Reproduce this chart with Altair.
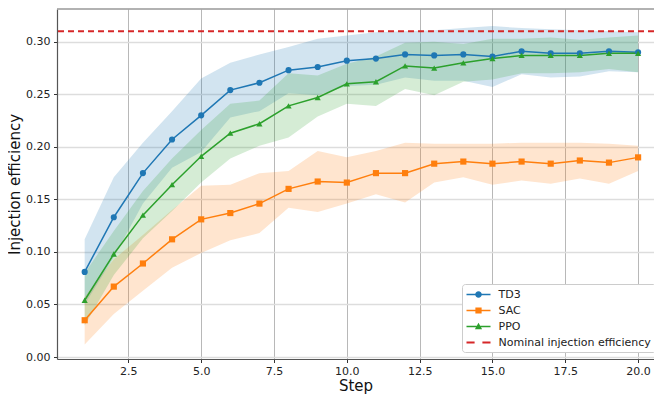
import altair as alt
import pandas as pd

steps = list(range(1, 21))

td3_mean = [0.081, 0.133, 0.175, 0.207, 0.230, 0.254, 0.261, 0.273, 0.276, 0.282,
            0.284, 0.288, 0.287, 0.288, 0.286, 0.291, 0.289, 0.289, 0.291, 0.290]
td3_lo = [0.050, 0.095, 0.146, 0.180, 0.195, 0.228, 0.234, 0.251, 0.249, 0.258,
          0.259, 0.266, 0.263, 0.263, 0.257, 0.269, 0.266, 0.267, 0.272, 0.271]
td3_hi = [0.112, 0.171, 0.204, 0.234, 0.265, 0.280, 0.288, 0.295, 0.303, 0.306,
          0.309, 0.310, 0.311, 0.313, 0.315, 0.313, 0.312, 0.311, 0.310, 0.309]

sac_mean = [0.035, 0.067, 0.089, 0.112, 0.131, 0.137, 0.146, 0.160, 0.167, 0.166,
            0.175, 0.175, 0.184, 0.186, 0.184, 0.186, 0.184, 0.187, 0.185, 0.190]
sac_lo = [0.012, 0.041, 0.063, 0.085, 0.099, 0.111, 0.118, 0.142, 0.138, 0.146,
          0.155, 0.147, 0.166, 0.171, 0.164, 0.168, 0.165, 0.170, 0.165, 0.177]
sac_hi = [0.057, 0.093, 0.116, 0.140, 0.163, 0.164, 0.175, 0.177, 0.196, 0.190,
          0.196, 0.204, 0.203, 0.203, 0.203, 0.204, 0.204, 0.204, 0.203, 0.201]

ppo_mean = [0.054, 0.098, 0.135, 0.164, 0.191, 0.213, 0.222, 0.239, 0.247, 0.260,
            0.262, 0.277, 0.275, 0.280, 0.284, 0.287, 0.287, 0.287, 0.289, 0.289]
ppo_lo = [0.030, 0.078, 0.113, 0.139, 0.166, 0.189, 0.201, 0.209, 0.229, 0.241,
          0.239, 0.255, 0.249, 0.262, 0.264, 0.270, 0.270, 0.271, 0.274, 0.271]
ppo_hi = [0.080, 0.120, 0.158, 0.189, 0.216, 0.241, 0.244, 0.270, 0.268, 0.279,
          0.286, 0.299, 0.300, 0.298, 0.303, 0.303, 0.304, 0.302, 0.304, 0.306]

nominal = 0.31

algos = ["TD3", "SAC", "PPO"]
legend_labels = ["TD3", "SAC", "PPO", "Nominal injection efficiency"]
colors = ["#1f77b4", "#ff7f0e", "#2ca02c", "#d62728"]
y_ticks = [0.0, 0.05, 0.10, 0.15, 0.20, 0.25, 0.30]
x_ticks = [2.5, 5.0, 7.5, 10.0, 12.5, 15.0, 17.5, 20.0]
x_domain = [0.05, 20.546]
y_domain = [-0.0019, 0.3312]

rows = []
for name, m, lo, hi in [("TD3", td3_mean, td3_lo, td3_hi),
                        ("SAC", sac_mean, sac_lo, sac_hi),
                        ("PPO", ppo_mean, ppo_lo, ppo_hi)]:
    for s, a, b, c in zip(steps, m, lo, hi):
        rows.append({"step": s, "algo": name, "mean": a, "lo": b, "hi": c})
df = pd.DataFrame(rows)
leg_df = pd.DataFrame({"label": legend_labels})

FONT = "DejaVu Sans"
x_scale = alt.Scale(domain=x_domain, nice=False, zero=False)
y_scale = alt.Scale(domain=y_domain, nice=False, zero=False)
c_scale = alt.Scale(domain=algos, range=colors[:3])

x_enc = alt.X("step:Q", scale=x_scale, title="Step",
              axis=alt.Axis(values=x_ticks, format=".1f"))
y_axis = alt.Axis(values=y_ticks, format=".2f")

band = alt.Chart(df).mark_area(opacity=0.2).encode(
    x=x_enc,
    y=alt.Y("lo:Q", scale=y_scale, title="Injection efficiency", axis=y_axis),
    y2="hi:Q",
    color=alt.Color("algo:N", scale=c_scale, legend=None),
)
line = alt.Chart(df).mark_line(strokeWidth=1.5).encode(
    x=x_enc,
    y=alt.Y("mean:Q", scale=y_scale),
    color=alt.Color("algo:N", scale=c_scale, legend=None),
)
pts = alt.Chart(df).mark_point(filled=True, size=38, opacity=1).encode(
    x=x_enc,
    y=alt.Y("mean:Q", scale=y_scale),
    color=alt.Color("algo:N", scale=c_scale, legend=None),
    shape=alt.Shape("algo:N", scale=alt.Scale(domain=algos,
                    range=["circle", "square", "triangle-up"]), legend=None),
)
rule = alt.Chart(pd.DataFrame({"v": [nominal]})).mark_rule(
    color=colors[3], strokeDash=[6, 4], strokeWidth=2
).encode(y=alt.Y("v:Q", scale=y_scale))

# top frame line of the axes box
top_line = alt.Chart(pd.DataFrame({"v": [y_domain[1]]})).mark_rule(
    color="#999999", strokeWidth=1.3
).encode(y=alt.Y("v:Q", scale=y_scale))

# legend symbols: line + marker, path coords scaled by sqrt(size)/2
line_part = "M-1,-0.13H3V0.13H-1Z"
paths = [
    line_part + "M1.55,0A0.55,0.55,0,1,1,0.45,0A0.55,0.55,0,1,1,1.55,0Z",
    line_part + "M0.48,-0.52H1.52V0.52H0.48Z",
    line_part + "M1,-0.62L1.6,0.45L0.4,0.45Z",
    "M-1,-0.17H0.35V0.17H-1Z M1.65,-0.17H3V0.17H1.65Z",
]
leg_kw = dict(orient="none", legendX=405, legendY=275, title=None,
              symbolSize=144, symbolStrokeWidth=0, symbolOpacity=1,
              labelOffset=20, labelFont=FONT, labelFontSize=11, labelColor="#222",
              rowPadding=5, padding=4.5, fillColor="white", strokeColor="#cccccc",
              cornerRadius=3)
legend_layer = alt.Chart(leg_df).mark_point(filled=True, opacity=0, size=144).encode(
    x=alt.datum(10),
    y=alt.datum(0.1),
    color=alt.Color("label:N", scale=alt.Scale(domain=legend_labels, range=colors),
                    legend=alt.Legend(**leg_kw)),
    shape=alt.Shape("label:N", scale=alt.Scale(domain=legend_labels, range=paths),
                    legend=alt.Legend(**leg_kw)),
)

chart = alt.layer(band, line, pts, rule, top_line, legend_layer).resolve_scale(
    color="independent", shape="independent"
).properties(
    width=597, height=350,
    autosize=alt.AutoSizeParams(type="none"),
    padding={"left": 49, "top": 1, "right": 0, "bottom": 35},
).configure_view(
    stroke=None
).configure_axis(
    labelFont=FONT, titleFont=FONT, labelFontSize=11, titleFontSize=15,
    labelColor="#222", titleColor="#111", titleFontWeight="normal",
    tickColor="#333", tickSize=3.5, domainColor="#555", domainWidth=1.2,
).configure_axisX(
    gridColor="#b0b0b0", gridWidth=0.9, labelPadding=3, titlePadding=2,
).configure_axisY(
    gridColor="#dddddd", gridWidth=1.5, labelPadding=3.5, titlePadding=3,
)

chart.save("out.html", embed_options={"renderer": "svg", "actions": False})
